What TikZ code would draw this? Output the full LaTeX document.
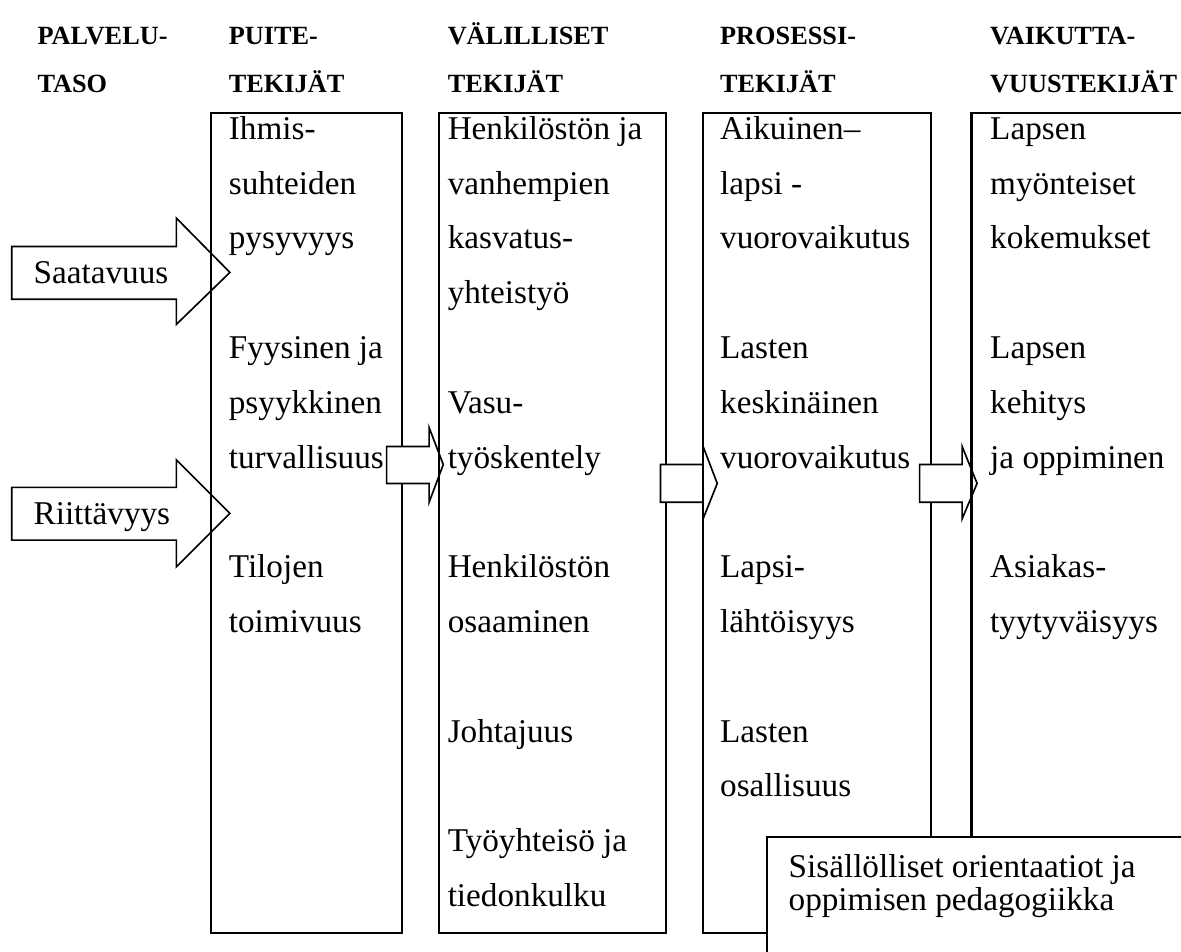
\documentclass[tikz,border=0pt]{standalone}
\usepackage{fontspec}
\setmainfont{Liberation Serif}

\tikzset{
	box/.style={line width=0.8pt},
	blockarrow/.style={draw, line width=0.6pt, fill=white},
	txt/.style={anchor=base west, inner sep=0pt, font=\fontsize{12}{14}\selectfont},
	headtxt/.style={anchor=base west, inner sep=0pt, font=\fontsize{9.5}{11}\selectfont\bfseries},
}

\begin{document}
\begin{tikzpicture}
	\useasboundingbox (0, 0) rectangle (15, 12.08);
	\clip (0, 0) rectangle (15, 12.08);
	% Column headings:
	\node[headtxt] (h1a) at (0.47, 11.52) {PALVELU-};
	\node[headtxt] (h1b) at (0.47, 10.91) {TASO};
	\node[headtxt] (h2a) at (2.90, 11.52) {PUITE-};
	\node[headtxt] (h2b) at (2.90, 10.91) {TEKIJÄT};
	\node[headtxt] (h3a) at (5.68, 11.52) {VÄLILLISET};
	\node[headtxt] (h3b) at (5.68, 10.91) {TEKIJÄT};
	\node[headtxt] (h4a) at (9.14, 11.52) {PROSESSI-};
	\node[headtxt] (h4b) at (9.14, 10.91) {TEKIJÄT};
	\node[headtxt] (h5a) at (12.57, 11.52) {VAIKUTTA-};
	\node[headtxt] (h5b) at (12.57, 10.91) {VUUSTEKIJÄT};
	% Input arrows:
	\draw[blockarrow] (0.15, 8.95) -- (2.24, 8.95) -- (2.24, 9.31) -- (2.92, 8.62) -- (2.24, 7.96) -- (2.24, 8.28) -- (0.15, 8.28) -- cycle;
	\draw[blockarrow] (0.15, 5.89) -- (2.24, 5.89) -- (2.24, 6.24) -- (2.92, 5.56) -- (2.24, 4.88) -- (2.24, 5.22) -- (0.15, 5.22) -- cycle;
	\node[txt] (saatavuus) at (0.42, 8.48) {Saatavuus};
	\node[txt] (riittavyys) at (0.42, 5.42) {Riittävyys};
	% Boxes and arrows between them:
	\draw[box] (2.68, 0.23) rectangle (5.11, 10.64);
	\draw[blockarrow] (4.91, 6.41) -- (5.45, 6.41) -- (5.45, 6.65) -- (5.63, 6.18) -- (5.45, 5.70) -- (5.45, 5.94) -- (4.91, 5.94) -- cycle;
	\draw[box] (5.58, 0.23) rectangle (8.46, 10.64);
	\draw[blockarrow] (8.39, 6.18) -- (8.93, 6.18) -- (8.93, 6.41) -- (9.11, 5.94) -- (8.93, 5.49) -- (8.93, 5.70) -- (8.39, 5.70) -- cycle;
	\draw[box] (8.93, 0.23) rectangle (11.82, 10.64);
	\draw[blockarrow] (11.68, 6.18) -- (12.22, 6.18) -- (12.22, 6.41) -- (12.41, 5.94) -- (12.22, 5.49) -- (12.22, 5.70) -- (11.68, 5.70) -- cycle;
	\draw[box] (12.34, 0.23) rectangle (15.5, 10.64);
	\draw[box, fill=white] (9.74, -0.5) rectangle (15.5, 1.45);
	\node[txt] (sis1) at (10.01, 0.94) {Sisällölliset orientaatiot ja};
	\node[txt] (sis2) at (10.01, 0.51) {oppimisen pedagogiikka};
	% Box texts, one line per slot:
	\foreach \s/\t in {0/Ihmis-, 1/suhteiden, 2/pysyvyys, 4/Fyysinen ja, 5/psyykkinen, 6/turvallisuus, 8/Tilojen, 9/toimivuus}
		\node[txt] (pa\s) at (2.90, 10.31-0.696*\s) {\t};
	\foreach \s/\t in {0/Henkilöstön ja, 1/vanhempien, 2/kasvatus-, 3/yhteistyö, 5/Vasu-, 6/työskentely, 8/Henkilöstön, 9/osaaminen, 11/Johtajuus, 13/Työyhteisö ja, 14/tiedonkulku}
		\node[txt] (va\s) at (5.68, 10.31-0.696*\s) {\t};
	\foreach \s/\t in {0/Aikuinen–, 1/lapsi -, 2/vuorovaikutus, 4/Lasten, 5/keskinäinen, 6/vuorovaikutus, 8/Lapsi-, 9/lähtöisyys, 11/Lasten, 12/osallisuus}
		\node[txt] (pr\s) at (9.14, 10.31-0.696*\s) {\t};
	\foreach \s/\t in {0/Lapsen, 1/myönteiset, 2/kokemukset, 4/Lapsen, 5/kehitys, 6/ja oppiminen, 8/Asiakas-, 9/tyytyväisyys}
		\node[txt] (vk\s) at (12.57, 10.31-0.696*\s) {\t};
\end{tikzpicture}
\end{document}
